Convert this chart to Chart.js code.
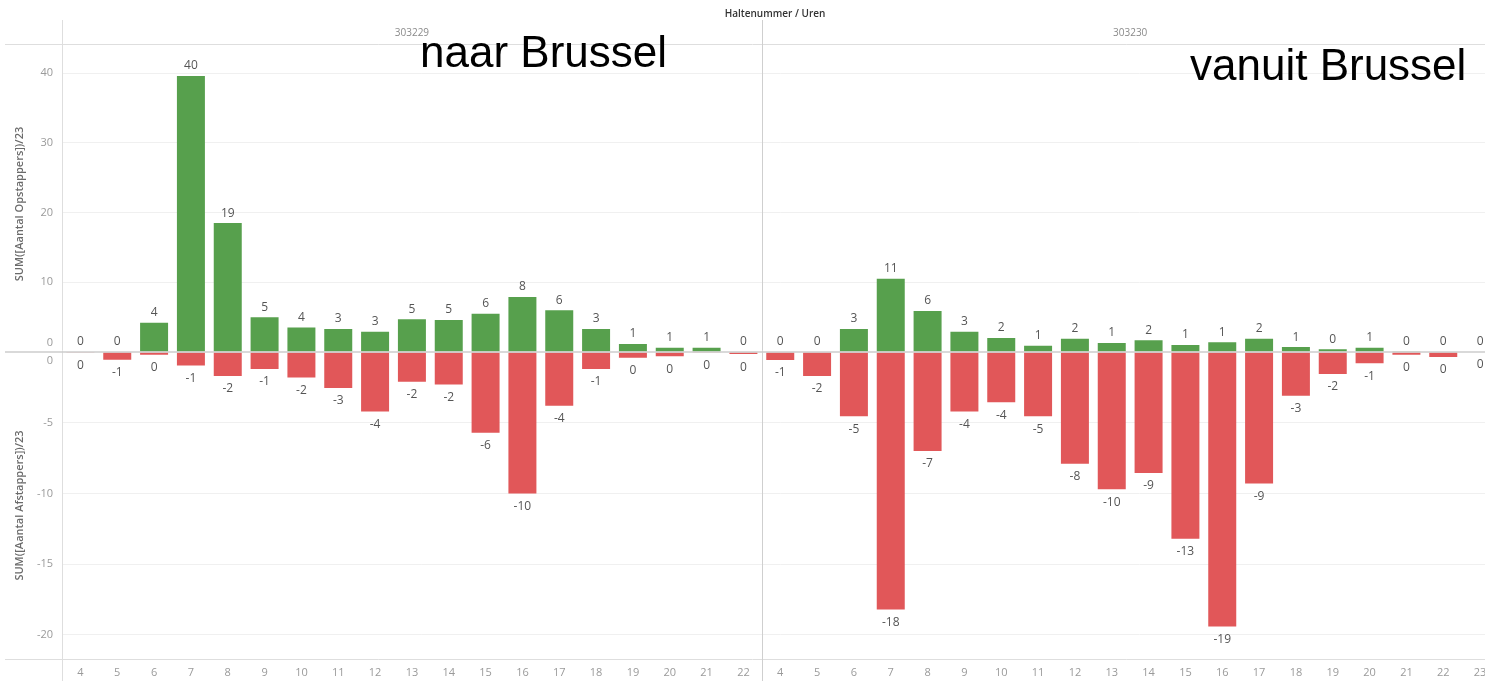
<!DOCTYPE html>
<html>
<head>
<meta charset="utf-8">
<script src="https://cdn.jsdelivr.net/npm/chart.js@4.4.1/dist/chart.umd.min.js"></script>
<style>
html,body{margin:0;padding:0;background:#fff;overflow:hidden;}
#wrap{position:absolute;left:0;top:0;width:1485px;height:681px;overflow:hidden;background:#fff;}
</style>
</head>
<body>
<div id="wrap"><canvas id="c" width="1500" height="681"></canvas></div>
<script>
// ---- data ----
const panels = ['303229', '303230'];
const hours1 = ['4','5','6','7','8','9','10','11','12','13','14','15','16','17','18','19','20','21','22'];
const hours2 = ['4','5','6','7','8','9','10','11','12','13','14','15','16','17','18','19','20','21','22','23'];
// SUM([Aantal Opstappers])/23
const opstappers1 = [0, 0, 4.2, 39.6, 18.5, 5.0, 3.5, 3.3, 2.9, 4.7, 4.6, 5.5, 7.9, 6.0, 3.3, 1.15, 0.6, 0.6, 0];
const opstappers2 = [0, 0, 3.3, 10.5, 5.9, 2.9, 2.0, 0.9, 1.9, 1.3, 1.7, 1.0, 1.4, 1.9, 0.7, 0.4, 0.6, 0.1, 0, 0];
// SUM([Aantal Afstappers])/23 (negative)
const afstappers1 = [-0.05, -0.55, -0.2, -0.95, -1.7, -1.2, -1.8, -2.55, -4.2, -2.1, -2.3, -5.7, -10.0, -3.8, -1.2, -0.4, -0.3, -0.05, -0.15];
const afstappers2 = [-0.57, -1.7, -4.55, -18.2, -7.0, -4.2, -3.55, -4.55, -7.9, -9.7, -8.55, -13.2, -19.4, -9.3, -3.1, -1.55, -0.8, -0.2, -0.35, 0];
const topTicks = [0, 10, 20, 30, 40];
const bottomTicks = [0, -5, -10, -15, -20];
const headerTitle = 'Haltenummer / Uren';
const topTitle = 'SUM([Aantal Opstappers])/23';
const bottomTitle = 'SUM([Aantal Afstappers])/23';
const notes = ['naar Brussel', 'vanuit Brussel'];

const labels = hours1.concat(hours2);
const greens = opstappers1.concat(opstappers2);
const reds = afstappers1.concat(afstappers2);

const FONT = "'Open Sans', 'DejaVu Sans', sans-serif";
const GREEN = '#57a04d';
const RED = '#e15759';

function fmt(v){ const r = Math.round(v); return String(r || 0); }

const decor = {
  id: 'decor',
  beforeDraw(chart){
    const ctx = chart.ctx;
    ctx.save();
    ctx.fillStyle = '#fff';
    ctx.fillRect(0, 0, chart.width, chart.height);
    ctx.restore();
  },
  afterDraw(chart){
    const ctx = chart.ctx;
    const area = chart.chartArea;
    const x = chart.scales.x;
    const yT = chart.scales.yTop;
    const yB = chart.scales.yBot;
    const n1 = hours1.length;
    const divX = (x.getPixelForValue(n1 - 1) + x.getPixelForValue(n1)) / 2;
    ctx.save();
    // lines
    ctx.lineWidth = 1;
    ctx.strokeStyle = '#dedede';
    ctx.beginPath();
    ctx.moveTo(5, area.top + 0.5); ctx.lineTo(chart.width, area.top + 0.5);
    ctx.moveTo(5, area.bottom + 0.5); ctx.lineTo(chart.width, area.bottom + 0.5);
    ctx.moveTo(area.left + 0.5, 20); ctx.lineTo(area.left + 0.5, chart.height);
    ctx.stroke();
    ctx.strokeStyle = '#cfcfcf';
    ctx.beginPath();
    ctx.moveTo(Math.round(divX) + 0.5, 20); ctx.lineTo(Math.round(divX) + 0.5, chart.height);
    ctx.stroke();
    const z = yT.getPixelForValue(0);
    ctx.strokeStyle = '#cccccc';
    ctx.lineWidth = 1.5;
    ctx.beginPath();
    ctx.moveTo(5, z); ctx.lineTo(chart.width, z);
    ctx.stroke();

    // header texts
    ctx.textAlign = 'center';
    ctx.textBaseline = 'middle';
    ctx.fillStyle = '#333';
    ctx.font = '600 10px ' + FONT;
    ctx.fillText(headerTitle, 775, 14);
    ctx.fillStyle = '#8a8a8a';
    ctx.font = '10px ' + FONT;
    ctx.fillText(panels[0], (area.left + divX) / 2, 33);
    ctx.fillText(panels[1], (divX + area.right) / 2, 33);

    // y tick labels
    ctx.fillStyle = '#9a9a9a';
    ctx.font = '11px ' + FONT;
    ctx.textAlign = 'right';
    topTicks.forEach(v => {
      let py = yT.getPixelForValue(v);
      if (v === 0) py -= 9;
      ctx.fillText(String(v), 53, py);
    });
    bottomTicks.forEach(v => {
      let py = yB.getPixelForValue(v);
      if (v === 0) py += 9;
      ctx.fillText(String(v), 53, py);
    });

    // axis titles
    ctx.fillStyle = '#6a6a6a';
    ctx.font = '600 11px ' + FONT;
    ctx.textAlign = 'center';
    ctx.save();
    ctx.translate(20, (yT.top + yT.bottom) / 2 + 6);
    ctx.rotate(-Math.PI / 2);
    ctx.fillText(topTitle, 0, 0);
    ctx.restore();
    ctx.save();
    ctx.translate(20, (yB.top + yB.bottom) / 2);
    ctx.rotate(-Math.PI / 2);
    ctx.fillText(bottomTitle, 0, 0);
    ctx.restore();

    // data labels
    ctx.fillStyle = '#555';
    ctx.font = '12px ' + FONT;
    ctx.textAlign = 'center';
    chart.getDatasetMeta(0).data.forEach((el, i) => {
      ctx.fillText(fmt(greens[i]), el.x, el.y - 10);
    });
    chart.getDatasetMeta(1).data.forEach((el, i) => {
      ctx.fillText(fmt(reds[i]), el.x, el.y + 13);
    });

    // big annotations
    ctx.fillStyle = '#000';
    ctx.font = '44px "Liberation Sans", Arial, sans-serif';
    ctx.textAlign = 'left';
    ctx.textBaseline = 'alphabetic';
    ctx.fillText(notes[0], 420, 67);
    ctx.fillText(notes[1], 1190, 80);
    ctx.restore();
  }
};

new Chart(document.getElementById('c'), {
  type: 'bar',
  data: {
    labels: labels,
    datasets: [
      { label: topTitle, data: greens, yAxisID: 'yTop', backgroundColor: GREEN, grouped: false,
        barPercentage: 0.76, categoryPercentage: 1.0 },
      { label: bottomTitle, data: reds, yAxisID: 'yBot', backgroundColor: RED, grouped: false,
        barPercentage: 0.76, categoryPercentage: 1.0 }
    ]
  },
  options: {
    responsive: false,
    animation: false,
    devicePixelRatio: 1,
    layout: { padding: { top: 44, right: 1.5, left: 0, bottom: 0 } },
    plugins: { legend: { display: false }, tooltip: { enabled: false } },
    scales: {
      x: {
        grid: { display: false, drawTicks: false },
        border: { display: false },
        ticks: { color: '#9a9a9a', font: { family: FONT, size: 11 }, padding: 7, maxRotation: 0, autoSkip: false },
        afterFit(s){ s.height = 22; }
      },
      yBot: {
        type: 'linear', position: 'left', stack: 'v', stackWeight: 307,
        min: -21.7, max: 0,
        grid: { color: ctx => (ctx.tick && ctx.tick.value === 0) ? 'rgba(0,0,0,0)' : '#f0f0f0', drawTicks: false },
        border: { display: false },
        ticks: { display: false },
        afterBuildTicks(s){ s.ticks = bottomTicks.map(v => ({ value: v })); },
        afterFit(s){ s.width = 62; }
      },
      yTop: {
        type: 'linear', position: 'left', stack: 'v', stackWeight: 308,
        min: 0, max: 44.2,
        grid: { color: ctx => (ctx.tick && ctx.tick.value === 0) ? 'rgba(0,0,0,0)' : '#f0f0f0', drawTicks: false },
        border: { display: false },
        ticks: { display: false },
        afterBuildTicks(s){ s.ticks = topTicks.map(v => ({ value: v })); },
        afterFit(s){ s.width = 62; }
      }
    }
  },
  plugins: [decor]
});
</script>
</body>
</html>
